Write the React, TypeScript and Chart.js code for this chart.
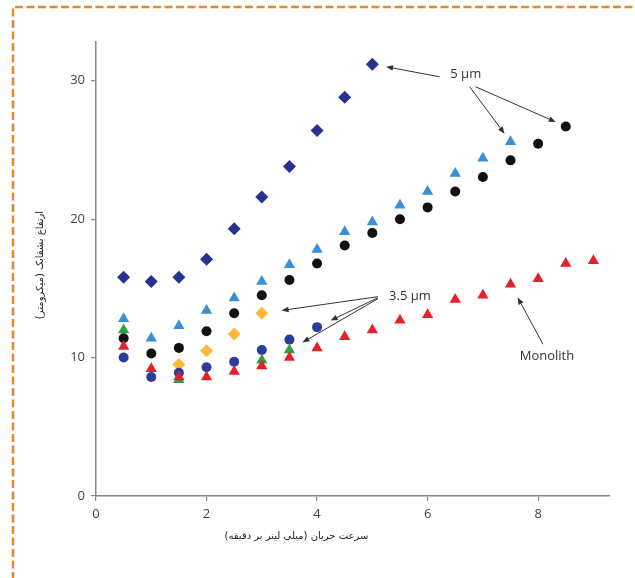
import React, { useEffect, useRef } from "react";
import { Chart, registerables } from "chart.js";

Chart.register(...registerables);

// ---- data ----
const xDiamond5 = [0.5, 1, 1.5, 2, 2.5, 3, 3.5, 4, 4.5, 5];
const yDiamond5 = [15.8, 15.5, 15.8, 17.1, 19.3, 21.6, 23.8, 26.4, 28.8, 31.2];

const xTriangle5 = [0.5, 1, 1.5, 2, 2.5, 3, 3.5, 4, 4.5, 5, 5.5, 6, 6.5, 7, 7.5];
const yTriangle5 = [12.8, 11.4, 12.3, 13.4, 14.3, 15.5, 16.7, 17.8, 19.1, 19.8, 21.0, 22.0, 23.3, 24.4, 25.6];

const xCircle5 = [0.5, 1, 1.5, 2, 2.5, 3, 3.5, 4, 4.5, 5, 5.5, 6, 6.5, 7, 7.5, 8, 8.5];
const yCircle5 = [11.4, 10.3, 10.7, 11.9, 13.2, 14.5, 15.6, 16.8, 18.1, 19.0, 20.0, 20.85, 22.0, 23.05, 24.25, 25.45, 26.7];

const xDiamond35 = [1.5, 2, 2.5, 3];
const yDiamond35 = [9.5, 10.5, 11.7, 13.2];

const xCircle35 = [0.5, 1, 1.5, 2, 2.5, 3, 3.5, 4];
const yCircle35 = [10.0, 8.6, 8.9, 9.3, 9.7, 10.55, 11.3, 12.2];

const xTriangle35 = [0.5, 1.5, 3, 3.5];
const yTriangle35 = [12.0, 8.4, 9.8, 10.55];

const xMonolith = [0.5, 1, 1.5, 2, 2.5, 3, 3.5, 4, 4.5, 5, 5.5, 6, 6.5, 7, 7.5, 8, 8.5, 9];
const yMonolith = [10.8, 9.2, 8.6, 8.6, 9.0, 9.4, 10.0, 10.7, 11.5, 12.0, 12.7, 13.1, 14.2, 14.5, 15.3, 15.7, 16.8, 17.0];

const xTicks = [0, 2, 4, 6, 8];
const yTicks = [0, 10, 20, 30];

const xTitle = "سرعت جریان (میلی لیتر بر دقیقه)";
const yTitle = "ارتفاع بشقابک (میکرومتر)";

const label5 = "5 µm";
const label35 = "3.5 µm";
const labelMono = "Monolith";

const pts = (xs: number[], ys: number[]) => xs.map((x, i) => ({ x, y: ys[i] }));

// annotations: text anchor in data units, arrows to dataset points
const annotations = [
  {
    text: label5,
    at: [6.69, 30.5],
    arrows: [
      { tail: [-26, 3], ds: "d5", idx: 9, gap: 14 },
      { tail: [4, 13], ds: "t5", idx: 14, gap: 10 },
      { tail: [10, 13], ds: "c5", idx: 16, gap: 11 },
    ],
  },
  {
    text: label35,
    at: [5.68, 14.4],
    arrows: [
      { tail: [-32, 0], ds: "d35", idx: 3, gap: 20 },
      { tail: [-32, 1], ds: "c35", idx: 7, gap: 15 },
      { tail: [-32, 2], ds: "t35", idx: 3, gap: 15 },
    ],
  },
  {
    text: labelMono,
    at: [8.16, 10.1],
    arrows: [{ tail: [-4, -12], ds: "mono", idx: 14, gap: 15 }],
  },
];

const overlayPlugin = {
  id: "overlay",
  beforeDraw(chart: any) {
    const ctx = chart.ctx;
    ctx.save();
    ctx.strokeStyle = "#e8892a";
    ctx.lineWidth = 2.5;
    ctx.setLineDash([8, 3.5]);
    ctx.beginPath();
    ctx.moveTo(13, 580);
    ctx.lineTo(13, 7);
    ctx.lineTo(640, 7);
    ctx.stroke();
    ctx.restore();
  },
  afterDraw(chart: any) {
    const ctx = chart.ctx;
    const xs = chart.scales.x;
    const ys = chart.scales.y;
    const area = chart.chartArea;
    ctx.save();
    // axis titles
    ctx.fillStyle = "#222";
    ctx.font = "10px 'DejaVu Sans', sans-serif";
    ctx.direction = "rtl";
    ctx.textAlign = "center";
    ctx.textBaseline = "middle";
    ctx.fillText(xTitle, area.left + (area.right - area.left) * 0.39, area.bottom + 40);
    ctx.save();
    ctx.translate(area.left - 56, (area.top + area.bottom) / 2 - 4);
    ctx.rotate(-Math.PI / 2);
    ctx.fillText(yTitle, 0, 0);
    ctx.restore();
    ctx.direction = "ltr";

    // annotations
    for (const a of annotations) {
      const cx = xs.getPixelForValue(a.at[0]);
      const cy = ys.getPixelForValue(a.at[1]);
      ctx.fillStyle = "#333";
      ctx.font = "13px 'Open Sans', sans-serif";
      ctx.textAlign = "center";
      ctx.textBaseline = "middle";
      ctx.fillText(a.text, cx, cy);
      for (const ar of a.arrows) {
        const dsIndex = chart.data.datasets.findIndex((d: any) => d.key === ar.ds);
        const p = chart.data.datasets[dsIndex].data[ar.idx];
        const px = xs.getPixelForValue(p.x);
        const py = ys.getPixelForValue(p.y);
        const tx = cx + ar.tail[0];
        const ty = cy + ar.tail[1];
        const dx = tx - px;
        const dy = ty - py;
        const len = Math.hypot(dx, dy);
        const ux = dx / len;
        const uy = dy / len;
        const hx = px + ux * ar.gap;
        const hy = py + uy * ar.gap;
        ctx.strokeStyle = "#333";
        ctx.lineWidth = 1;
        ctx.beginPath();
        ctx.moveTo(tx, ty);
        ctx.lineTo(hx + ux * 5, hy + uy * 5);
        ctx.stroke();
        // arrow head
        const al = 7;
        const aw = 2.8;
        const bx = hx + ux * al;
        const by = hy + uy * al;
        ctx.fillStyle = "#333";
        ctx.beginPath();
        ctx.moveTo(hx, hy);
        ctx.lineTo(bx - uy * aw, by + ux * aw);
        ctx.lineTo(bx + uy * aw, by - ux * aw);
        ctx.closePath();
        ctx.fill();
      }
    }
    ctx.restore();
  },
};

export default function App() {
  const ref = useRef<HTMLCanvasElement>(null);
  useEffect(() => {
    if (!ref.current) return;
    const chart = new Chart(ref.current, {
      type: "scatter",
      data: {
        datasets: [
          { key: "mono", data: pts(xMonolith, yMonolith), pointStyle: "triangle", radius: 6.5, backgroundColor: "#e3202b", borderColor: "#e3202b", borderWidth: 0, order: 0 },
          { key: "c5", data: pts(xCircle5, yCircle5), pointStyle: "circle", radius: 5, backgroundColor: "#111111", borderColor: "#111111", borderWidth: 0, order: 1 },
          { key: "t35", data: pts(xTriangle35, yTriangle35), pointStyle: "triangle", radius: 6.5, backgroundColor: "#2f9e44", borderColor: "#2f9e44", borderWidth: 0, order: 2 },
          { key: "c35", data: pts(xCircle35, yCircle35), pointStyle: "circle", radius: 5, backgroundColor: "#2b3b9e", borderColor: "#2b3b9e", borderWidth: 0, order: 3 },
          { key: "d35", data: pts(xDiamond35, yDiamond35), pointStyle: "rectRot", radius: 6.5, backgroundColor: "#fbb93c", borderColor: "#fbb93c", borderWidth: 0, order: 4 },
          { key: "t5", data: pts(xTriangle5, yTriangle5), pointStyle: "triangle", radius: 6.5, backgroundColor: "#3b8fd4", borderColor: "#3b8fd4", borderWidth: 0, order: 5 },
          { key: "d5", data: pts(xDiamond5, yDiamond5), pointStyle: "rectRot", radius: 6.5, backgroundColor: "#26328f", borderColor: "#26328f", borderWidth: 0, order: 6 },
        ] as any,
      },
      options: {
        animation: false,
        responsive: false,
        events: [],
        layout: { padding: { left: 0, right: 25, top: 42, bottom: 0 } },
        plugins: { legend: { display: false }, tooltip: { enabled: false } },
        scales: {
          x: {
            type: "linear",
            min: 0,
            max: 9.3,
            afterBuildTicks: (s: any) => { s.ticks = xTicks.map((v) => ({ value: v })); },
            afterFit: (s: any) => { s.height = 82; },
            grid: { display: true, drawOnChartArea: false, drawTicks: true, tickLength: 5, color: "#888", lineWidth: 1.2 },
            border: { display: true, color: "#888", width: 1.5 },
            ticks: { color: "#444", font: { family: "'Open Sans', sans-serif", size: 13 }, padding: 5 },
          },
          y: {
            type: "linear",
            min: 0,
            max: 32.8,
            afterBuildTicks: (s: any) => { s.ticks = yTicks.map((v) => ({ value: v })); },
            afterFit: (s: any) => { s.width = 96; },
            grid: { display: true, drawOnChartArea: false, drawTicks: true, tickLength: 5, color: "#888", lineWidth: 1.2 },
            border: { display: true, color: "#888", width: 1.5 },
            ticks: { color: "#444", font: { family: "'Open Sans', sans-serif", size: 13 }, padding: 6 },
          },
        },
      } as any,
      plugins: [overlayPlugin],
    });
    return () => chart.destroy();
  }, []);
  return (
    <div style={{ position: "absolute", left: 0, top: 0, width: 635, height: 578, background: "#fff" }}>
      <canvas ref={ref} width={635} height={578} style={{ display: "block" }} />
    </div>
  );
}
